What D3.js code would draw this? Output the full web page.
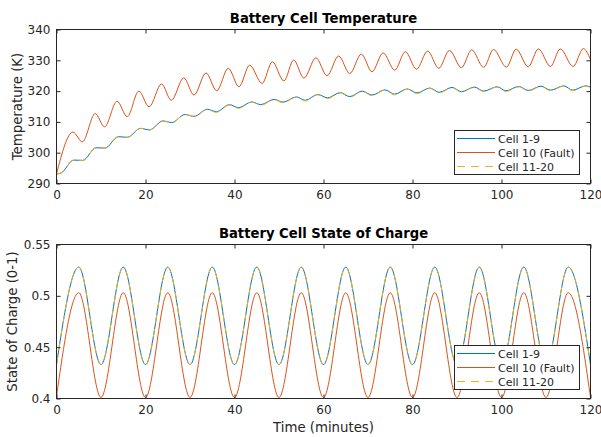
<!DOCTYPE html>
<html>
<head>
<meta charset="utf-8">
<script src="https://cdn.jsdelivr.net/npm/d3@7"></script>
<style>
  html, body { margin: 0; padding: 0; background: #fff; }
  svg { display: block; font-family: "DejaVu Sans", sans-serif; }
</style>
</head>
<body>
<svg id="chart" width="601" height="437"></svg>
<script>
// ---------------- DATA ----------------
const seriesNames = ["Cell 1-9", "Cell 10 (Fault)", "Cell 11-20"];
const seriesColors = ["#0072BD", "#D95319", "#EDB120"];

const xTicks = [0, 20, 40, 60, 80, 100, 120];
const tempTicks = [290, 300, 310, 320, 330, 340];
const socTicks = [0.4, 0.45, 0.5, 0.55];
const socTickLabels = ["0.4", "0.45", "0.5", "0.55"];

// Temperature (K) — turning points
const tempTimeRed = [0, 3.7, 5.8, 8.7, 10.8, 13.6, 15.9, 18.5, 20.8, 23.6, 25.8, 28.6, 30.9, 33.6, 36.0, 38.6, 41.0, 43.4, 46.2, 48.5, 51.1, 53.3, 55.6, 58.3, 60.8, 63.4, 65.9, 68.5, 70.9, 73.4, 76.0, 78.4, 80.9, 83.4, 85.9, 88.3, 91.0, 93.3, 96.0, 98.2, 101.1, 103.3, 106.0, 108.3, 111.0, 113.2, 116.1, 118.4, 120];
const tempRed = [293.1, 306.7, 303.5, 312.7, 308.4, 316.7, 311.7, 320.0, 314.9, 322.3, 317.0, 324.3, 318.7, 325.9, 320.1, 327.4, 321.4, 328.4, 322.5, 329.5, 323.3, 330.1, 324.2, 330.8, 325.0, 331.4, 325.7, 332.0, 326.3, 332.4, 326.8, 332.8, 327.1, 333.0, 327.4, 333.2, 327.6, 333.4, 327.7, 333.5, 327.8, 333.6, 327.9, 333.7, 328.0, 333.7, 328.0, 333.8, 330.2];

const tempTimeNormal = [0, 1.0, 3.9, 5.9, 8.9, 10.9, 13.9, 15.9, 18.9, 20.9, 23.9, 25.9, 28.9, 30.9, 33.9, 35.9, 38.9, 40.9, 43.9, 45.9, 48.9, 50.9, 53.9, 55.9, 58.7, 60.9, 63.8, 65.9, 68.7, 70.9, 73.8, 76.0, 78.8, 81.0, 83.9, 86.0, 88.9, 91.0, 93.9, 96.0, 99.0, 101.0, 103.9, 106.0, 108.9, 111.0, 114.0, 116.0, 118.9, 120];
const tempBlue = [293.1, 293.4, 297.6, 297.5, 301.6, 301.5, 305.2, 305.0, 307.9, 307.4, 310.3, 309.8, 312.4, 311.8, 314.1, 313.3, 315.6, 314.6, 316.5, 315.6, 317.3, 316.4, 318.1, 317.0, 318.9, 317.8, 319.5, 318.2, 320.0, 318.7, 320.4, 319.0, 320.7, 319.4, 321.0, 319.6, 321.2, 319.8, 321.3, 320.0, 321.4, 320.1, 321.5, 320.2, 321.6, 320.3, 321.7, 320.3, 321.7, 321.3];
const tempYellow = [293.1, 293.4, 297.6, 297.5, 301.6, 301.5, 305.2, 305.0, 307.9, 307.4, 310.3, 309.7, 312.4, 311.7, 314.0, 313.1, 315.5, 314.4, 316.4, 315.4, 317.2, 316.2, 318.0, 316.8, 318.8, 317.6, 319.4, 318.0, 319.9, 318.5, 320.3, 318.8, 320.6, 319.2, 320.9, 319.4, 321.1, 319.6, 321.2, 319.8, 321.3, 319.9, 321.4, 320.0, 321.5, 320.1, 321.6, 320.1, 321.6, 321.2];

// State of charge (0-1) — turning points every 5 minutes
const socTime = [0, 5, 10, 15, 20, 25, 30, 35, 40, 45, 50, 55, 60, 65, 70, 75, 80, 85, 90, 95, 100, 105, 110, 115, 120];
const socBlue = [0.433, 0.528, 0.433, 0.528, 0.433, 0.528, 0.433, 0.528, 0.433, 0.528, 0.433, 0.528, 0.433, 0.528, 0.433, 0.528, 0.433, 0.528, 0.433, 0.528, 0.433, 0.528, 0.433, 0.528, 0.433];
const socRed = [0.402, 0.503, 0.401, 0.503, 0.401, 0.503, 0.401, 0.503, 0.401, 0.503, 0.401, 0.503, 0.401, 0.503, 0.401, 0.503, 0.401, 0.503, 0.401, 0.503, 0.401, 0.503, 0.401, 0.503, 0.401];
const socYellow = [0.433, 0.528, 0.433, 0.528, 0.433, 0.528, 0.433, 0.528, 0.433, 0.528, 0.433, 0.528, 0.433, 0.528, 0.433, 0.528, 0.433, 0.528, 0.433, 0.528, 0.433, 0.528, 0.433, 0.528, 0.433];

// ---------------- DRAWING ----------------
const svg = d3.select("#chart");
const axisColor = "#262626";

const panels = [
  {
    title: "Battery Cell Temperature", ylabel: "Temperature (K)", ylabelX: 21.5,
    y0: 29.5, y1: 183.5, domain: [290, 340], ticks: tempTicks, tickFmt: d => d,
    series: [
      { t: tempTimeNormal, v: tempBlue, c: 0, dash: null },
      { t: tempTimeRed, v: tempRed, c: 1, dash: null },
      { t: tempTimeNormal, v: tempYellow, c: 2, dash: "8,6" }
    ],
    titleY: 22.5, xlabel: null
  },
  {
    title: "Battery Cell State of Charge", ylabel: "State of Charge (0-1)", ylabelX: 16.5,
    y0: 244.5, y1: 398.5, domain: [0.4, 0.55], ticks: socTicks,
    tickFmt: d => socTickLabels[socTicks.indexOf(d)],
    series: [
      { t: socTime, v: socBlue, c: 0, dash: null },
      { t: socTime, v: socRed, c: 1, dash: null },
      { t: socTime, v: socYellow, c: 2, dash: "8,6" }
    ],
    titleY: 238, xlabel: "Time (minutes)"
  }
];

const xLeft = 56.5, xRight = 590.5;

panels.forEach((p, pi) => {
  const x = d3.scaleLinear().domain([0, 120]).range([xLeft, xRight]);
  const y = d3.scaleLinear().domain(p.domain).range([p.y1, p.y0]);
  const g = svg.append("g");

  // clip
  const clipId = "clip" + pi;
  svg.append("clipPath").attr("id", clipId)
    .append("rect").attr("x", xLeft).attr("y", p.y0)
    .attr("width", xRight - xLeft).attr("height", p.y1 - p.y0);

  // lines
  const line = d3.line().x(d => x(d[0])).y(d => y(d[1])).curve(d3.curveMonotoneX);
  const lg = g.append("g").attr("clip-path", `url(#${clipId})`);
  p.series.forEach(s => {
    const pts = s.t.map((t, i) => [t, s.v[i]]);
    lg.append("path").datum(pts)
      .attr("d", line)
      .attr("fill", "none")
      .attr("stroke", seriesColors[s.c])
      .attr("stroke-width", 1)
      .attr("stroke-dasharray", s.dash);
  });

  // axes
  const styleAxis = (sel, showText) => {
    sel.select(".domain").remove();
    sel.selectAll(".tick line").attr("stroke", axisColor);
    sel.selectAll(".tick text").attr("fill", axisColor)
      .style("font-size", "12px").style("font-family", "DejaVu Sans, sans-serif");
    if (!showText) sel.selectAll(".tick text").remove();
  };
  g.append("g").attr("transform", `translate(0,${p.y1})`)
    .call(d3.axisBottom(x).tickValues(xTicks).tickSize(-4).tickPadding(7))
    .call(s => styleAxis(s, true));
  g.append("g").attr("transform", `translate(0,${p.y0})`)
    .call(d3.axisTop(x).tickValues(xTicks).tickSize(-4))
    .call(s => styleAxis(s, false));
  g.append("g").attr("transform", `translate(${xLeft},0)`)
    .call(d3.axisLeft(y).tickValues(p.ticks).tickFormat(p.tickFmt).tickSize(-4).tickPadding(6))
    .call(s => styleAxis(s, true));
  g.append("g").attr("transform", `translate(${xRight},0)`)
    .call(d3.axisRight(y).tickValues(p.ticks).tickSize(-4))
    .call(s => styleAxis(s, false));

  // box
  g.append("rect").attr("x", xLeft).attr("y", p.y0)
    .attr("width", xRight - xLeft).attr("height", p.y1 - p.y0)
    .attr("fill", "none").attr("stroke", axisColor).attr("stroke-width", 1);

  // title
  g.append("text").attr("x", (xLeft + xRight) / 2).attr("y", p.titleY)
    .attr("text-anchor", "middle").attr("fill", "#000")
    .style("font-size", "13.2px").style("font-weight", "bold")
    .text(p.title);

  // y label
  g.append("text")
    .attr("transform", `translate(${p.ylabelX},${(p.y0 + p.y1) / 2}) rotate(-90)`)
    .attr("text-anchor", "middle").attr("fill", axisColor)
    .style("font-size", "13.3px")
    .text(p.ylabel);

  // x label
  if (p.xlabel) {
    g.append("text").attr("x", (xLeft + xRight) / 2).attr("y", 432)
      .attr("text-anchor", "middle").attr("fill", axisColor)
      .style("font-size", "13.3px")
      .text(p.xlabel);
  }

  // legend
  const lx0 = 454.5, lx1 = 579.5, ly0 = p.y0 + 101, ly1 = p.y1 - 9;
  const leg = g.append("g");
  leg.append("rect").attr("x", lx0).attr("y", ly0)
    .attr("width", lx1 - lx0).attr("height", ly1 - ly0)
    .attr("fill", "#fff").attr("stroke", axisColor).attr("stroke-width", 1);
  seriesNames.forEach((name, i) => {
    const ry = ly0 + 8 + i * 14;
    leg.append("line").attr("x1", lx0 + 2.5).attr("x2", lx0 + 40.5)
      .attr("y1", ry).attr("y2", ry)
      .attr("stroke", seriesColors[i]).attr("stroke-width", 1)
      .attr("stroke-dasharray", i === 2 ? "8,6" : null);
    leg.append("text").attr("x", lx0 + 43.5).attr("y", ry + 4)
      .attr("fill", axisColor).style("font-size", "11px")
      .text(name);
  });
});
</script>
</body>
</html>
